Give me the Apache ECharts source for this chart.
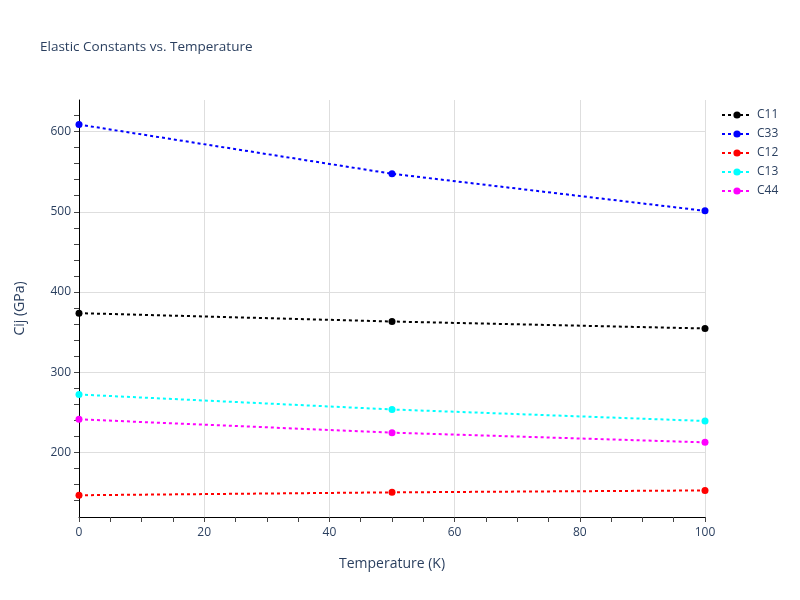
<!DOCTYPE html>
<html>
<head>
<meta charset="utf-8">
<script src="https://cdn.jsdelivr.net/npm/echarts@6/dist/echarts.min.js"></script>
<style>html,body{margin:0;padding:0;background:#fff}#c{width:800px;height:600px}</style>
</head>
<body>
<div id="c"></div>
<script>
const temperatures = [0, 50, 100];
const seriesNames = ['C11', 'C33', 'C12', 'C13', 'C44'];
const C11 = [373.7, 363.3, 354.6];
const C33 = [608.7, 547.4, 501.2];
const C12 = [146.8, 150.4, 152.8];
const C13 = [272.3, 253.7, 239.3];
const C44 = [241.4, 224.8, 212.7];
const yLabelValues = [200, 300, 400, 500, 600];
const yTickValues = [140, 160, 180, 200, 220, 240, 260, 280, 300, 320, 340, 360, 380, 400, 420, 440, 460, 480, 500, 520, 540, 560, 580, 600, 620];

const values = [C11, C33, C12, C13, C44];
const colors = ['#000000', '#0000ff', '#ff0000', '#00ffff', '#ff00ff'];
const txt = '#2a3f5f';
const font = '"Open Sans", verdana, arial, sans-serif';

const chart = echarts.init(document.getElementById('c'), null, {renderer: 'canvas'});
chart.setOption({
  animation: false,
  backgroundColor: '#fff',
  textStyle: {fontFamily: font},
  title: {
    text: 'Elastic Constants vs. Temperature',
    left: 35, top: 35,
    textStyle: {fontSize: 13.5, fontWeight: 'normal', color: txt, fontFamily: font}
  },
  legend: {
    orient: 'vertical', left: 721, top: 109, padding: 0,
    itemWidth: 30, itemHeight: 9, itemGap: 7,
    textStyle: {fontSize: 12, color: txt, fontFamily: font},
    data: seriesNames
  },
  grid: {left: 79, right: 95, top: 100, bottom: 83},
  xAxis: {
    type: 'value', min: 0, max: 100, interval: 20,
    name: 'Temperature (K)', nameLocation: 'middle', nameGap: 40,
    nameTextStyle: {fontSize: 14, color: txt, fontFamily: font},
    axisLine: {show: true, lineStyle: {color: '#000', width: 1}},
    axisTick: {show: true, length: 5, lineStyle: {color: '#444'}},
    minorTick: {show: true, splitNumber: 4, length: 5, lineStyle: {color: '#444'}},
    axisLabel: {fontSize: 12, color: txt, margin: 10, fontFamily: font},
    splitLine: {show: true, lineStyle: {color: '#dedede', width: 1}}
  },
  yAxis: [{
    type: 'value', min: 119.7, max: 639.3, position: 'left',
    name: 'Cij (GPa)', nameLocation: 'middle', nameGap: 52,
    nameTextStyle: {fontSize: 14, color: txt, fontFamily: font},
    axisLine: {show: true, onZero: false, lineStyle: {color: '#000', width: 1}},
    axisTick: {show: true, length: 5, customValues: yTickValues, lineStyle: {color: '#444'}},
    axisLabel: {show: false},
    splitLine: {show: false}
  }, {
    type: 'value', min: 119.7, max: 639.3, position: 'left', offset: 0,
    axisLine: {show: false},
    axisTick: {show: false, customValues: yLabelValues},
    axisLabel: {show: true, customValues: yLabelValues, fontSize: 12, color: txt, margin: 8, fontFamily: font},
    splitLine: {show: true, lineStyle: {color: '#dedede', width: 1}}
  }],
  series: seriesNames.map((n, i) => ({
    name: n, type: 'line', yAxisIndex: 0,
    data: temperatures.map((t, j) => [t, values[i][j]]),
    symbol: 'circle', symbolSize: 7, showSymbol: true,
    lineStyle: {type: [3, 3], width: 2, color: colors[i]},
    itemStyle: {color: colors[i]},
    z: 3
  }))
});
</script>
</body>
</html>
